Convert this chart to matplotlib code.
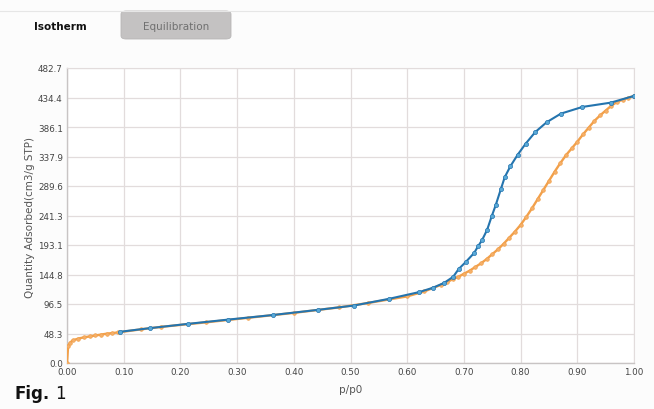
import matplotlib
matplotlib.use("Agg")
import matplotlib.pyplot as plt
from matplotlib.patches import FancyBboxPatch
from matplotlib.lines import Line2D

# Adsorption branch (orange)
ads_x = [0.0, 0.002, 0.005, 0.01, 0.02, 0.03, 0.04, 0.05, 0.06, 0.07, 0.08, 0.09,
         0.13, 0.165, 0.245, 0.32, 0.40, 0.48, 0.53, 0.60, 0.63,
         0.66, 0.67, 0.68, 0.69, 0.70, 0.71, 0.72, 0.73, 0.74, 0.75, 0.76, 0.77,
         0.78, 0.79, 0.80, 0.81, 0.82, 0.83, 0.84, 0.85, 0.86, 0.87, 0.88, 0.89,
         0.90, 0.91, 0.92, 0.93, 0.94, 0.95, 0.96, 0.97, 0.98, 0.99, 1.00]
ads_y = [0, 28, 33, 37, 40, 42, 43.5, 45, 46.5, 48, 49, 50,
         55, 59, 66.5, 74, 82, 91, 98, 109, 117,
         128, 132, 137, 141, 146, 151, 157, 163, 170, 178, 186, 195,
         205, 215, 226, 239, 253, 268, 283, 298, 313, 327, 340, 351,
         362, 374, 385, 396, 405, 413, 421, 427, 431, 434, 437]

# Desorption branch (blue)
des_x = [1.00, 0.959, 0.909, 0.871, 0.846, 0.826, 0.809, 0.795, 0.782, 0.772,
         0.765, 0.756, 0.749, 0.741, 0.732, 0.725, 0.718, 0.703, 0.691, 0.681,
         0.665, 0.645, 0.621, 0.568, 0.506, 0.443, 0.363, 0.284, 0.213, 0.146, 0.093]
des_y = [437, 426, 419, 408, 394, 378, 359, 341, 322, 304,
         284, 258, 240, 218, 201, 191, 180, 165, 154, 141,
         131, 123, 116, 105, 94, 87, 78.5, 71, 64, 57, 51]

x_ticks = [0.0, 0.1, 0.2, 0.3, 0.4, 0.5, 0.6, 0.7, 0.8, 0.9, 1.0]
x_labels = ["0.00", "0.10", "0.20", "0.30", "0.40", "0.50", "0.60", "0.70", "0.80", "0.90", "1.00"]
y_ticks = [0.0, 48.27, 96.54, 144.81, 193.08, 241.35, 289.62, 337.89, 386.16, 434.43, 482.7]
y_labels = ["0.0", "48.3", "96.5", "144.8", "193.1", "241.3", "289.6", "337.9", "386.1", "434.4", "482.7"]

plt.rcParams['font.family'] = ['DejaVu Sans']

fig = plt.figure(figsize=(6.54, 4.10), dpi=100)
fig.patch.set_facecolor('#fcfcfc')

ax = fig.add_axes([67/654, 46/410, 567/654, 295/410])
ax.set_facecolor('#ffffff')

orange = '#f2a04a'
blue_line = '#2474ae'
blue_mk = '#5aaad8'

ax.plot(ads_x, ads_y, color=orange, lw=1.7, marker='o', ms=2.6,
        mfc='#f5b06a', mec=orange, mew=0.5, zorder=3)
ax.plot(des_x, des_y, color=blue_line, lw=1.5, marker='o', ms=3.0,
        mfc=blue_mk, mec=blue_line, mew=0.5, zorder=4)

ax.set_xlim(0, 1.0)
ax.set_ylim(0, 482.7)
ax.set_xticks(x_ticks)
ax.set_xticklabels(x_labels)
ax.set_yticks(y_ticks)
ax.set_yticklabels(y_labels)
ax.tick_params(axis='both', length=0, labelsize=6.3, colors='#444444', pad=3)
ax.grid(True, color='#e2dcdc', lw=0.9)
for side in ['top', 'right']:
    ax.spines[side].set_color('#e2dcdc')
for side in ['left', 'bottom']:
    ax.spines[side].set_color('#c8c4c4')
    ax.spines[side].set_linewidth(1.0)

ax.set_xlabel('p/p0', fontsize=7.5, color='#555555', labelpad=6)
fig.text(30/654, 1 - 217/410, 'Quantity Adsorbed(cm3/g STP)', rotation=90,
         ha='center', va='center', fontsize=7.5, color='#555555')

# tabs
fig.add_artist(Line2D([0, 1], [1 - 12/410, 1 - 12/410], color='#e6e6e6', lw=0.8))
tab = FancyBboxPatch((121/654, 1 - 40/410), 110/654, 28/410,
                     boxstyle='round,pad=0,rounding_size=0.008',
                     transform=fig.transFigure, facecolor='#c4c2c2',
                     edgecolor='#b8b6b6', lw=0.6)
fig.add_artist(tab)
fig.text(60/654, 1 - 27/410, 'Isotherm', ha='center', va='center',
         fontsize=7.5, color='#111111', fontweight='semibold')
fig.text(176/654, 1 - 27/410, 'Equilibration', ha='center', va='center',
         fontsize=7.5, color='#707070')

fig.text(15/654, 1 - 399/410, 'Fig.', ha='left', va='baseline',
         fontsize=12, fontweight='bold', color='#111111')
fig.text(55/654, 1 - 399/410, '1', ha='left', va='baseline',
         fontsize=12, color='#111111')

fig.savefig('out.png', dpi=100, facecolor=fig.get_facecolor())
